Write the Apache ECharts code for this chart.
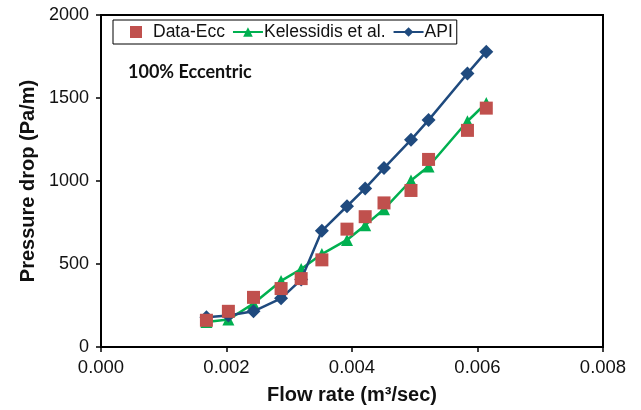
<!DOCTYPE html>
<html>
<head>
<meta charset="utf-8">
<script src="https://cdn.jsdelivr.net/npm/echarts@6/dist/echarts.min.js"></script>
<style>
html,body{margin:0;padding:0;background:#fff;}
#chart{width:641px;height:410px;}
</style>
</head>
<body>
<div id="chart"></div>
<script>
// Flow rate (m3/sec)
const flowRate = [0.00168, 0.00203, 0.00243, 0.00287, 0.00319, 0.00352, 0.00392, 0.00421, 0.00451, 0.00494, 0.00522, 0.00584, 0.00614];
// Pressure drop (Pa/m)
const dataEcc    = [161, 215, 299, 352, 412, 525, 710, 785, 868, 943, 1130, 1305, 1439];
const kelessidis = [150, 165, 262, 398, 470, 560, 645, 734, 830, 1003, 1087, 1360, 1470];
const api        = [179, 190, 215, 293, 406, 700, 848, 955, 1078, 1248, 1367, 1648, 1779];
const xTicks = [0, 0.002, 0.004, 0.006, 0.008];
const yTicks = [0, 500, 1000, 1500, 2000];

const pairs = ys => flowRate.map((x, i) => [x, ys[i]]);

const chart = echarts.init(document.getElementById('chart'), null, {renderer: 'canvas'});
const font = 'Liberation Sans, Arial, sans-serif';
chart.setOption({
  animation: false,
  backgroundColor: '#fff',
  grid: {left: 101, right: 38, top: 15, bottom: 60, show: true, borderColor: '#000', borderWidth: 2, backgroundColor: 'transparent'},
  legend: {
    left: 113, top: 20,
    padding: [3, 4, 3, 9],
    borderColor: '#000', borderWidth: 1,
    itemGap: 7, itemWidth: 30, itemHeight: 12,
    textStyle: {fontFamily: font, fontSize: 17.5, color: '#111', padding: [0, 0, 0, -4]},
    data: [
      {name: 'Data-Ecc', icon: 'path://M0,0 M30,12 M8,0 L20,0 L20,12 L8,12 Z'},
      {name: 'Kelessidis et al.'},
      {name: 'API'}
    ]
  },
  graphic: [{
    type: 'text', left: 128, top: 63,
    style: {text: '100% Eccentric', font: 'bold 18px Lato, "Open Sans", sans-serif', fill: '#111'}
  }],
  xAxis: {
    type: 'value', min: xTicks[0], max: xTicks[xTicks.length - 1], interval: 0.002,
    name: 'Flow rate (m³/sec)', nameLocation: 'middle', nameGap: 38,
    nameTextStyle: {fontFamily: font, fontSize: 20, fontWeight: 'bold', color: '#111'},
    axisLine: {lineStyle: {color: '#000', width: 2}},
    axisTick: {show: true, inside: false, length: 5, lineStyle: {color: '#000', width: 1.5}},
    axisLabel: {fontFamily: font, fontSize: 18.5, color: '#111', margin: 11, formatter: v => v.toFixed(3)},
    splitLine: {show: false}
  },
  yAxis: {
    type: 'value', min: yTicks[0], max: yTicks[yTicks.length - 1], interval: 500,
    name: 'Pressure drop (Pa/m)', nameLocation: 'middle', nameGap: 62, nameRotate: 90,
    nameTextStyle: {fontFamily: font, fontSize: 20, fontWeight: 'bold', color: '#111'},
    axisLine: {show: true, lineStyle: {color: '#000', width: 2}},
    axisTick: {show: true, inside: false, length: 5, lineStyle: {color: '#000', width: 1.5}},
    axisLabel: {fontFamily: font, fontSize: 18, color: '#111', margin: 12, formatter: v => String(v)},
    splitLine: {show: false}
  },
  series: [
    {
      name: 'Data-Ecc', type: 'scatter', data: pairs(dataEcc), z: 5,
      symbol: 'rect', symbolSize: 13,
      itemStyle: {color: '#C0504D', opacity: 1}
    },
    {
      name: 'Kelessidis et al.', type: 'line', data: pairs(kelessidis), z: 3,
      symbol: 'triangle', symbolSize: 12, showSymbol: true,
      lineStyle: {color: '#00B050', width: 2.5},
      itemStyle: {color: '#00B050'}
    },
    {
      name: 'API', type: 'line', data: pairs(api), z: 4,
      symbol: 'diamond', symbolSize: 14, showSymbol: true,
      lineStyle: {color: '#1F4A7E', width: 2.5},
      itemStyle: {color: '#1F4A7E'}
    }
  ]
});
</script>
</body>
</html>
